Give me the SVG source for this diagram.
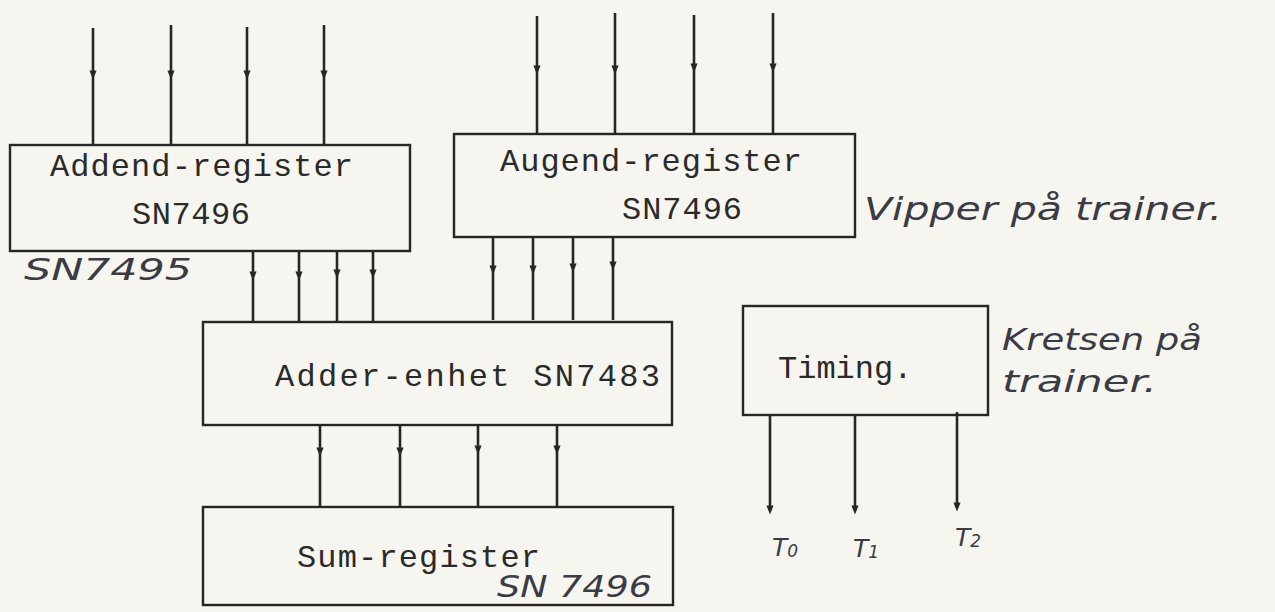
<svg xmlns="http://www.w3.org/2000/svg" width="1275" height="612" viewBox="0 0 1275 612">
<defs>
<marker id="ad" viewBox="0 0 10 12" refX="5" refY="6" markerWidth="9" markerHeight="12" markerUnits="userSpaceOnUse" orient="0">
<path d="M1 1 L9 1 L5 11 Z" fill="#262626"/>
</marker>
<style>
.box{fill:none;stroke:#262626;stroke-width:2.4}
.w{fill:none;stroke:#262626;stroke-width:2.6;marker-mid:url(#ad)}
.we{fill:none;stroke:#262626;stroke-width:2.6;marker-end:url(#ad)}
.tt{font-family:"Liberation Mono","DejaVu Sans Mono",monospace;font-size:32px;fill:#2a2a2a}
.hw{font-family:"DejaVu Sans","Liberation Sans",sans-serif;font-style:italic;font-weight:300;fill:#3a3b44}
</style>
</defs>
<rect width="1275" height="612" fill="#f6f5ef"/>

<g id="connectors">
<path class="w" d="M93 28 L93 75 L93 145"/>
<path class="w" d="M171 25 L171 75 L171 145"/>
<path class="w" d="M247 27 L247 75 L247 145"/>
<path class="w" d="M324 25 L324 75 L324 145"/>
<path class="w" d="M537 16 L537 70 L537 134"/>
<path class="w" d="M615 13 L615 70 L615 134"/>
<path class="w" d="M694 15 L694 68 L694 134"/>
<path class="w" d="M773 13 L773 68 L773 134"/>
<path class="w" d="M253 251 L253 276 L253 323"/>
<path class="w" d="M299 251 L299 276 L299 323"/>
<path class="w" d="M337 251 L337 274 L337 323"/>
<path class="w" d="M373 251 L373 274 L373 323"/>
<path class="w" d="M493 237 L493 270 L493 320"/>
<path class="w" d="M533 237 L533 270 L533 320"/>
<path class="w" d="M573 237 L573 268 L573 320"/>
<path class="w" d="M613 237 L613 266 L613 320"/>
<path class="w" d="M320 425 L320 452 L320 507"/>
<path class="w" d="M400 425 L400 452 L400 507"/>
<path class="w" d="M478 425 L478 450 L478 507"/>
<path class="w" d="M557 425 L557 450 L557 507"/>
<path class="we" d="M770 415 L770 510"/>
<path class="we" d="M855 414 L855 510"/>
<path class="we" d="M957 412 L957 507"/>
</g>

<g id="addend">
<rect class="box" x="10" y="145" width="400" height="106"/>
<text class="tt" x="50" y="176" textLength="303" lengthAdjust="spacing">Addend-register</text>
<text class="tt" x="132" y="224" textLength="118" lengthAdjust="spacing">SN7496</text>
<text class="hw" x="24" y="280" font-size="30" textLength="168" lengthAdjust="spacingAndGlyphs">SN7495</text>
</g>

<g id="augend">
<rect class="box" x="454" y="134" width="401" height="103"/>
<text class="tt" x="500" y="171" textLength="302" lengthAdjust="spacing">Augend-register</text>
<text class="tt" x="622" y="219" textLength="120" lengthAdjust="spacing">SN7496</text>
</g>

<g id="note-vipper">
<text class="hw" x="864" y="220" font-size="32" textLength="358" lengthAdjust="spacingAndGlyphs">Vipper på trainer.</text>
</g>

<g id="adder">
<rect class="box" x="203" y="322" width="469" height="103"/>
<text class="tt" x="275" y="386" textLength="385" lengthAdjust="spacing">Adder-enhet  SN7483</text>
</g>

<g id="sum">
<rect class="box" x="203" y="507" width="470" height="98"/>
<text class="tt" x="297" y="567" textLength="243" lengthAdjust="spacing">Sum-register</text>
<text class="hw" x="497" y="597" font-size="30" textLength="155" lengthAdjust="spacingAndGlyphs">SN 7496</text>
</g>

<g id="timing">
<rect class="box" x="743" y="306" width="245" height="109"/>
<text class="tt" x="778" y="378" font-size="29">Timing.</text>
<text class="hw" x="772" y="556" font-size="25">T<tspan font-size="17" dy="1">0</tspan></text>
<text class="hw" x="853" y="557" font-size="25">T<tspan font-size="17" dy="1">1</tspan></text>
<text class="hw" x="955" y="546" font-size="25">T<tspan font-size="17" dy="1">2</tspan></text>
</g>

<g id="note-kretsen">
<text class="hw" x="1002" y="350" font-size="30" textLength="200" lengthAdjust="spacingAndGlyphs">Kretsen på</text>
<text class="hw" x="1002" y="392" font-size="30" textLength="155" lengthAdjust="spacingAndGlyphs">trainer.</text>
</g>
</svg>
